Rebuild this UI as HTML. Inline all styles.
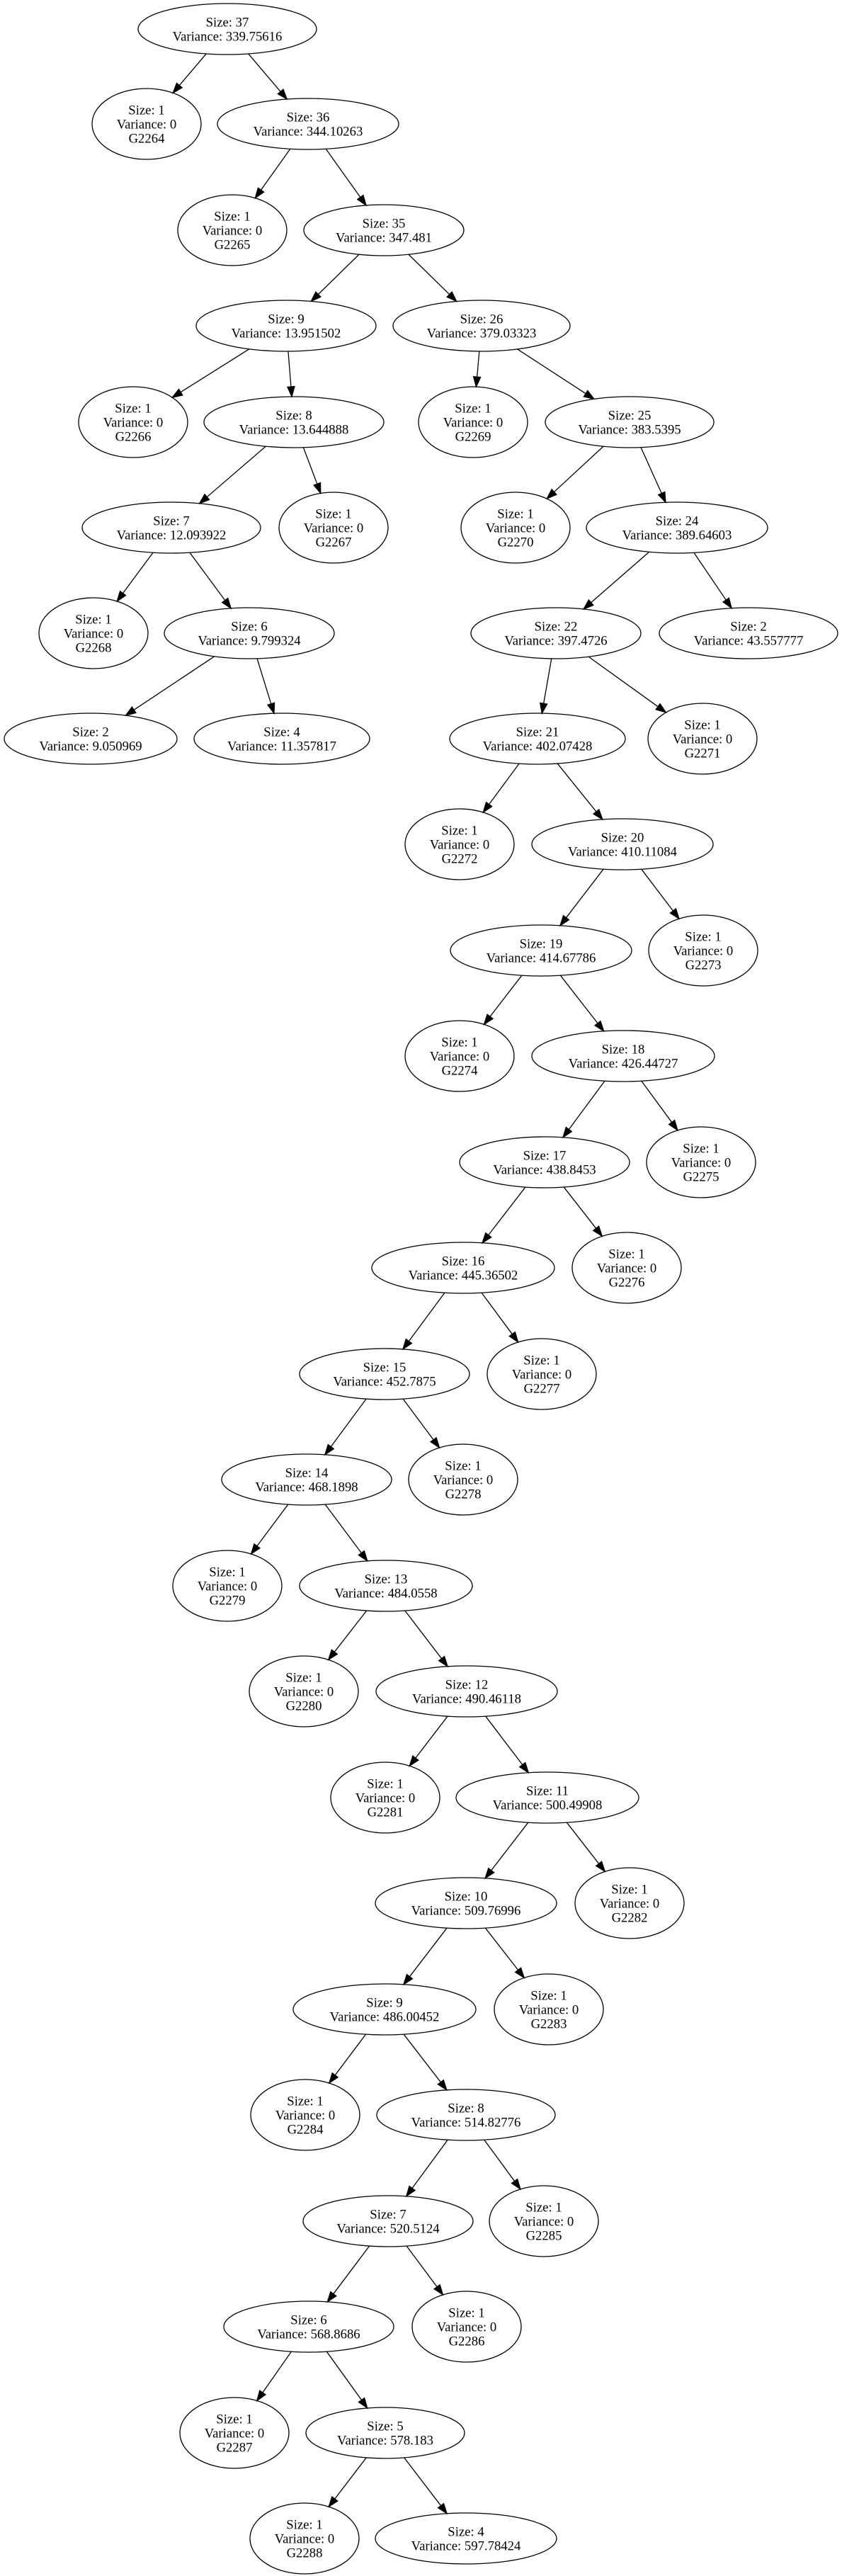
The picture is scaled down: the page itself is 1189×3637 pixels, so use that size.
<!DOCTYPE html>
<html><head><meta charset="utf-8"><style>
html,body{margin:0;padding:0;background:#fff;}
svg{display:block;}
text{font-family:"Liberation Serif","Times New Roman",serif;font-size:18.7px;fill:#000;text-anchor:middle;}
ellipse{fill:none;stroke:#000;stroke-width:1.3;}
</style></head><body>
<svg id="s" width="1189" height="3637" viewBox="0 0 1189 3637" xmlns="http://www.w3.org/2000/svg">
<g id="edges"></g>
<g id="nodes">
<g><ellipse cx="321" cy="41" rx="126" ry="36"/><text x="321" y="37.5">Size: 37</text><text x="321" y="57.5">Variance: 339.75616</text></g>
<g><ellipse cx="207" cy="175" rx="77" ry="50"/><text x="207" y="161.5">Size: 1</text><text x="207" y="181.5">Variance: 0</text><text x="207" y="201.5">G2264</text></g>
<g><ellipse cx="435" cy="175" rx="128" ry="36"/><text x="435" y="171.5">Size: 36</text><text x="435" y="191.5">Variance: 344.10263</text></g>
<g><ellipse cx="328" cy="325" rx="77" ry="50"/><text x="328" y="311.5">Size: 1</text><text x="328" y="331.5">Variance: 0</text><text x="328" y="351.5">G2265</text></g>
<g><ellipse cx="542" cy="325" rx="113" ry="36"/><text x="542" y="321.5">Size: 35</text><text x="542" y="341.5">Variance: 347.481</text></g>
<g><ellipse cx="404" cy="460" rx="127" ry="36"/><text x="404" y="456.5">Size: 9</text><text x="404" y="476.5">Variance: 13.951502</text></g>
<g><ellipse cx="680" cy="460" rx="125" ry="36"/><text x="680" y="456.5">Size: 26</text><text x="680" y="476.5">Variance: 379.03323</text></g>
<g><ellipse cx="188" cy="596" rx="77" ry="50"/><text x="188" y="582.5">Size: 1</text><text x="188" y="602.5">Variance: 0</text><text x="188" y="622.5">G2266</text></g>
<g><ellipse cx="415" cy="596" rx="127" ry="36"/><text x="415" y="592.5">Size: 8</text><text x="415" y="612.5">Variance: 13.644888</text></g>
<g><ellipse cx="668" cy="596" rx="77" ry="50"/><text x="668" y="582.5">Size: 1</text><text x="668" y="602.5">Variance: 0</text><text x="668" y="622.5">G2269</text></g>
<g><ellipse cx="889" cy="596" rx="119" ry="36"/><text x="889" y="592.5">Size: 25</text><text x="889" y="612.5">Variance: 383.5395</text></g>
<g><ellipse cx="242" cy="745" rx="126" ry="36"/><text x="242" y="741.5">Size: 7</text><text x="242" y="761.5">Variance: 12.093922</text></g>
<g><ellipse cx="471" cy="745" rx="77" ry="50"/><text x="471" y="731.5">Size: 1</text><text x="471" y="751.5">Variance: 0</text><text x="471" y="771.5">G2267</text></g>
<g><ellipse cx="728" cy="745" rx="77" ry="50"/><text x="728" y="731.5">Size: 1</text><text x="728" y="751.5">Variance: 0</text><text x="728" y="771.5">G2270</text></g>
<g><ellipse cx="956" cy="745" rx="128" ry="36"/><text x="956" y="741.5">Size: 24</text><text x="956" y="761.5">Variance: 389.64603</text></g>
<g><ellipse cx="132" cy="894" rx="77" ry="50"/><text x="132" y="880.5">Size: 1</text><text x="132" y="900.5">Variance: 0</text><text x="132" y="920.5">G2268</text></g>
<g><ellipse cx="352" cy="894" rx="120" ry="36"/><text x="352" y="890.5">Size: 6</text><text x="352" y="910.5">Variance: 9.799324</text></g>
<g><ellipse cx="785" cy="894" rx="120" ry="36"/><text x="785" y="890.5">Size: 22</text><text x="785" y="910.5">Variance: 397.4726</text></g>
<g><ellipse cx="1057" cy="894" rx="126" ry="36"/><text x="1057" y="890.5">Size: 2</text><text x="1057" y="910.5">Variance: 43.557777</text></g>
<g><ellipse cx="128" cy="1043" rx="122" ry="36"/><text x="128" y="1039.5">Size: 2</text><text x="128" y="1059.5">Variance: 9.050969</text></g>
<g><ellipse cx="398" cy="1043" rx="124" ry="36"/><text x="398" y="1039.5">Size: 4</text><text x="398" y="1059.5">Variance: 11.357817</text></g>
<g><ellipse cx="759" cy="1043" rx="124" ry="36"/><text x="759" y="1039.5">Size: 21</text><text x="759" y="1059.5">Variance: 402.07428</text></g>
<g><ellipse cx="992" cy="1043" rx="77" ry="50"/><text x="992" y="1029.5">Size: 1</text><text x="992" y="1049.5">Variance: 0</text><text x="992" y="1069.5">G2271</text></g>
<g><ellipse cx="649" cy="1192" rx="77" ry="50"/><text x="649" y="1178.5">Size: 1</text><text x="649" y="1198.5">Variance: 0</text><text x="649" y="1218.5">G2272</text></g>
<g><ellipse cx="879" cy="1192" rx="128" ry="36"/><text x="879" y="1188.5">Size: 20</text><text x="879" y="1208.5">Variance: 410.11084</text></g>
<g><ellipse cx="764" cy="1342" rx="128" ry="36"/><text x="764" y="1338.5">Size: 19</text><text x="764" y="1358.5">Variance: 414.67786</text></g>
<g><ellipse cx="993" cy="1342" rx="77" ry="50"/><text x="993" y="1328.5">Size: 1</text><text x="993" y="1348.5">Variance: 0</text><text x="993" y="1368.5">G2273</text></g>
<g><ellipse cx="649" cy="1491" rx="77" ry="50"/><text x="649" y="1477.5">Size: 1</text><text x="649" y="1497.5">Variance: 0</text><text x="649" y="1517.5">G2274</text></g>
<g><ellipse cx="880" cy="1491" rx="129" ry="36"/><text x="880" y="1487.5">Size: 18</text><text x="880" y="1507.5">Variance: 426.44727</text></g>
<g><ellipse cx="769" cy="1641" rx="120" ry="36"/><text x="769" y="1637.5">Size: 17</text><text x="769" y="1657.5">Variance: 438.8453</text></g>
<g><ellipse cx="990" cy="1641" rx="77" ry="50"/><text x="990" y="1627.5">Size: 1</text><text x="990" y="1647.5">Variance: 0</text><text x="990" y="1667.5">G2275</text></g>
<g><ellipse cx="654" cy="1790" rx="129" ry="36"/><text x="654" y="1786.5">Size: 16</text><text x="654" y="1806.5">Variance: 445.36502</text></g>
<g><ellipse cx="885" cy="1790" rx="77" ry="50"/><text x="885" y="1776.5">Size: 1</text><text x="885" y="1796.5">Variance: 0</text><text x="885" y="1816.5">G2276</text></g>
<g><ellipse cx="543" cy="1940" rx="120" ry="36"/><text x="543" y="1936.5">Size: 15</text><text x="543" y="1956.5">Variance: 452.7875</text></g>
<g><ellipse cx="765" cy="1940" rx="77" ry="50"/><text x="765" y="1926.5">Size: 1</text><text x="765" y="1946.5">Variance: 0</text><text x="765" y="1966.5">G2277</text></g>
<g><ellipse cx="433" cy="2089" rx="120" ry="36"/><text x="433" y="2085.5">Size: 14</text><text x="433" y="2105.5">Variance: 468.1898</text></g>
<g><ellipse cx="654" cy="2089" rx="77" ry="50"/><text x="654" y="2075.5">Size: 1</text><text x="654" y="2095.5">Variance: 0</text><text x="654" y="2115.5">G2278</text></g>
<g><ellipse cx="321" cy="2239" rx="77" ry="50"/><text x="321" y="2225.5">Size: 1</text><text x="321" y="2245.5">Variance: 0</text><text x="321" y="2265.5">G2279</text></g>
<g><ellipse cx="545" cy="2239" rx="122" ry="36"/><text x="545" y="2235.5">Size: 13</text><text x="545" y="2255.5">Variance: 484.0558</text></g>
<g><ellipse cx="429" cy="2388" rx="77" ry="50"/><text x="429" y="2374.5">Size: 1</text><text x="429" y="2394.5">Variance: 0</text><text x="429" y="2414.5">G2280</text></g>
<g><ellipse cx="659" cy="2388" rx="128" ry="36"/><text x="659" y="2384.5">Size: 12</text><text x="659" y="2404.5">Variance: 490.46118</text></g>
<g><ellipse cx="544" cy="2538" rx="77" ry="50"/><text x="544" y="2524.5">Size: 1</text><text x="544" y="2544.5">Variance: 0</text><text x="544" y="2564.5">G2281</text></g>
<g><ellipse cx="773" cy="2538" rx="129" ry="36"/><text x="773" y="2534.5">Size: 11</text><text x="773" y="2554.5">Variance: 500.49908</text></g>
<g><ellipse cx="658" cy="2687" rx="128" ry="36"/><text x="658" y="2683.5">Size: 10</text><text x="658" y="2703.5">Variance: 509.76996</text></g>
<g><ellipse cx="889" cy="2687" rx="77" ry="50"/><text x="889" y="2673.5">Size: 1</text><text x="889" y="2693.5">Variance: 0</text><text x="889" y="2713.5">G2282</text></g>
<g><ellipse cx="543" cy="2837" rx="129" ry="36"/><text x="543" y="2833.5">Size: 9</text><text x="543" y="2853.5">Variance: 486.00452</text></g>
<g><ellipse cx="775" cy="2837" rx="77" ry="50"/><text x="775" y="2823.5">Size: 1</text><text x="775" y="2843.5">Variance: 0</text><text x="775" y="2863.5">G2283</text></g>
<g><ellipse cx="431" cy="2986" rx="77" ry="50"/><text x="431" y="2972.5">Size: 1</text><text x="431" y="2992.5">Variance: 0</text><text x="431" y="3012.5">G2284</text></g>
<g><ellipse cx="658" cy="2986" rx="126" ry="36"/><text x="658" y="2982.5">Size: 8</text><text x="658" y="3002.5">Variance: 514.82776</text></g>
<g><ellipse cx="548" cy="3136" rx="120" ry="36"/><text x="548" y="3132.5">Size: 7</text><text x="548" y="3152.5">Variance: 520.5124</text></g>
<g><ellipse cx="768" cy="3136" rx="77" ry="50"/><text x="768" y="3122.5">Size: 1</text><text x="768" y="3142.5">Variance: 0</text><text x="768" y="3162.5">G2285</text></g>
<g><ellipse cx="436" cy="3285" rx="120" ry="36"/><text x="436" y="3281.5">Size: 6</text><text x="436" y="3301.5">Variance: 568.8686</text></g>
<g><ellipse cx="659" cy="3285" rx="77" ry="50"/><text x="659" y="3271.5">Size: 1</text><text x="659" y="3291.5">Variance: 0</text><text x="659" y="3311.5">G2286</text></g>
<g><ellipse cx="331" cy="3435" rx="77" ry="50"/><text x="331" y="3421.5">Size: 1</text><text x="331" y="3441.5">Variance: 0</text><text x="331" y="3461.5">G2287</text></g>
<g><ellipse cx="544" cy="3435" rx="112" ry="36"/><text x="544" y="3431.5">Size: 5</text><text x="544" y="3451.5">Variance: 578.183</text></g>
<g><ellipse cx="430" cy="3584" rx="77" ry="50"/><text x="430" y="3570.5">Size: 1</text><text x="430" y="3590.5">Variance: 0</text><text x="430" y="3610.5">G2288</text></g>
<g><ellipse cx="658" cy="3584" rx="128" ry="36"/><text x="658" y="3580.5">Size: 4</text><text x="658" y="3600.5">Variance: 597.78424</text></g>
</g>
</svg>
<script>
(function(){
var els=[].slice.call(document.querySelectorAll('#nodes ellipse'));
var N=els.map(function(e){return{x:+e.getAttribute('cx'),y:+e.getAttribute('cy'),rx:+e.getAttribute('rx'),ry:+e.getAttribute('ry')};});
// indices
var E=[[0,1],[0,2],[2,3],[2,4],[4,5],[4,6],[5,7],[5,8],[6,9],[6,10],[8,11],[8,12],[10,13],[10,14],[11,15],[11,16],[14,17],[14,18],[16,19],[16,20],[17,21],[17,22],[21,23],[21,24],[24,25],[24,26],[25,27],[25,28],[28,29],[28,30],[29,31],[29,32],[31,33],[31,34],[33,35],[33,36],[35,37],[35,38],[38,39],[38,40],[40,41],[40,42],[42,43],[42,44],[43,45],[43,46],[45,47],[45,48],[48,49],[48,50],[49,51],[49,52],[51,53],[51,54],[54,55],[54,56]];
var g=document.getElementById('edges'),ns='http://www.w3.org/2000/svg',out='';
function bp(n,dx,dy){var t=1/Math.sqrt((dx/n.rx)*(dx/n.rx)+(dy/n.ry)*(dy/n.ry));return[n.x+dx*t,n.y+dy*t];}
E.forEach(function(e){var p=N[e[0]],c=N[e[1]];var dx=c.x-p.x,dy=c.y-p.y,L=Math.sqrt(dx*dx+dy*dy),ux=dx/L,uy=dy/L;
var s=bp(p,ux,uy),t=bp(c,-ux,-uy);var AL=14,AW=5;var bx=t[0]-ux*AL,by=t[1]-uy*AL;
out+='<line x1="'+s[0]+'" y1="'+s[1]+'" x2="'+bx+'" y2="'+by+'" stroke="#000" stroke-width="1.3"/>';
out+='<polygon points="'+t[0]+','+t[1]+' '+(bx-uy*AW)+','+(by+ux*AW)+' '+(bx+uy*AW)+','+(by-ux*AW)+'" fill="#000" stroke="#000" stroke-width="1.3"/>';});
g.innerHTML=out;
})();
</script>
</body></html>
